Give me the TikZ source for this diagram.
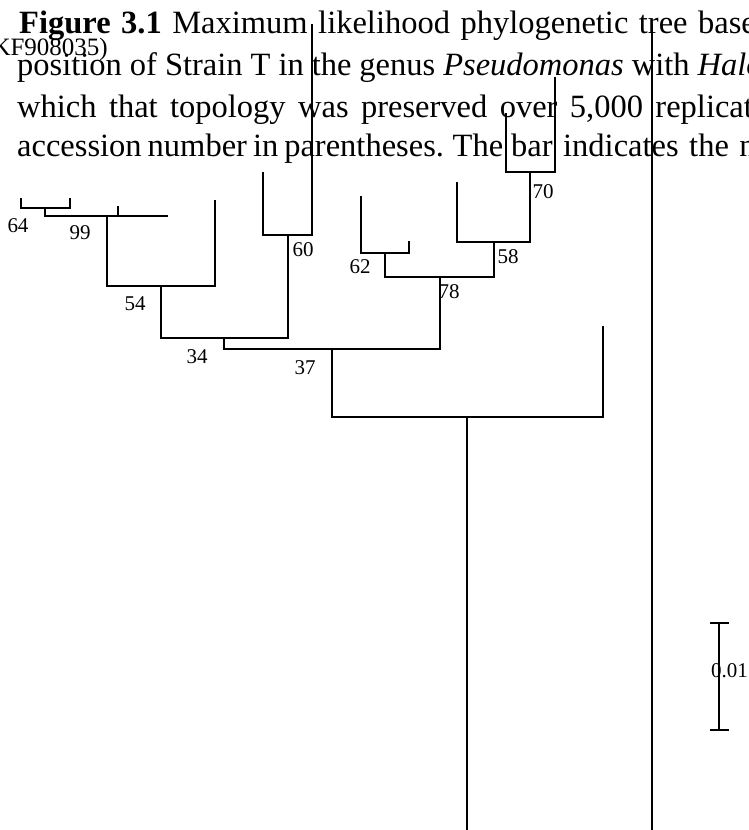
\documentclass[tikz,border=0pt]{standalone}
\usepackage{fontspec}
\setmainfont{Liberation Serif}
\begin{document}
\begin{tikzpicture}[x=1pt,y=-1pt,
  br/.style={line width=1.8pt, line cap=rect},
  thin/.style={line width=1.3pt},
  bs/.style={font=\fontsize{21}{21}\selectfont, inner sep=0pt},
  txt/.style={font=\fontsize{32.5}{32.5}\selectfont, inner sep=0pt, anchor=base west}]
\useasboundingbox (0,0) rectangle (748,830);
\fill[white] (0,0) rectangle (748,830);
% caption lines
\node[txt] (l1) at (19,33) {\spaceskip=10.5pt\textbf{Figure 3.1} Maximum likelihood phylogenetic tree base};
\node[txt] (l2) at (17,75) {\spaceskip=8pt position of Strain T in the genus \textit{Pseudomonas} with \textit{Halo}};
\node[txt] (l3) at (17,117) {\spaceskip=12.4pt which that topology was preserved over 5,000 replicat};
\node[txt] (l4a) at (17,156) {\spaceskip=6pt accession number in parentheses. The};
\node[txt] (l4b) at (511,156) {\spaceskip=10.5pt bar indicates the nu};
\node[font=\fontsize{25}{25}\selectfont, inner sep=0pt, anchor=base east] (acc) at (108,55) {(KF908035)};
% coordinates
\coordinate (t1) at (312,25);
\coordinate (c60r) at (312,235);
\coordinate (t2) at (263,173);
\coordinate (c60) at (288,235);
\coordinate (c34r) at (288,338);
\coordinate (c54) at (161,286);
\coordinate (t215) at (215,201);
\coordinate (c54l) at (107,286);
\coordinate (c99) at (107,216);
\coordinate (c64) at (45,216);
\coordinate (t167) at (167,216);
\coordinate (k1) at (118,216);
\coordinate (k2) at (118,207);
\coordinate (c64t) at (45,208);
\coordinate (t21) at (21,199);
\coordinate (c64r) at (70,208);
\coordinate (t70) at (70,199);
\coordinate (c34) at (224,338);
\coordinate (c78b) at (440,349);
\coordinate (c78) at (440,277);
\coordinate (c62) at (385,253);
\coordinate (c58r) at (494,277);
\coordinate (c58) at (494,242);
\coordinate (t361) at (361,197);
\coordinate (c62r) at (409,253);
\coordinate (t409) at (409,242);
\coordinate (t457) at (457,183);
\coordinate (c70b) at (530,242);
\coordinate (c70) at (530,172);
\coordinate (b1) at (506,113);
\coordinate (b2) at (555,172);
\coordinate (b3) at (555,77);
\coordinate (c37) at (332,349);
\coordinate (c37r) at (603,417);
\coordinate (t603) at (603,327);
\coordinate (r1) at (467,417);
\coordinate (r2) at (467,830);
\coordinate (v1) at (652,25);
\coordinate (v2) at (652,830);
\coordinate (s1) at (719,623);
\coordinate (s2) at (719,730);
% tree
\draw[br] (t2) |- (c60r) -- (t1);
\draw[br] (c60) -- (c34r);
\draw[br] (c54) |- (c34r);
\draw[br] (t215) |- (c54l) -- (c99);
\draw[br] (c64) -- (t167);
\draw[br] (k1) -- (k2);
\draw[br] (c64) -- (c64t);
\draw[br] (t21) |- (c64r) -- (t70);
\draw[br] (c34) |- (c78b) -- (c78);
\draw[br] (c62) |- (c58r) -- (c58);
\draw[br] (t361) |- (c62r) -- (t409);
\draw[br] (t457) |- (c70b) -- (c70);
\draw[thin] (b1) |- (b2) -- (b3);
\draw[br] (c37) |- (c37r) -- (t603);
\draw[br] (r1) -- (r2);
\draw[br] (v1) -- (v2);
% scale bar
\draw[br] (s1) -- (s2);
\draw[br] ([xshift=-8pt]s1) -- ([xshift=9pt]s1);
\draw[br] ([xshift=-8pt]s2) -- ([xshift=9pt]s2);
\node[bs, anchor=west] (sc) at (711,671) {0.01};
% bootstrap labels
\node[bs] (b64) at (18,226) {64};
\node[bs] (b99) at (80,233) {99};
\node[bs] (b54) at (135,304) {54};
\node[bs] (b60) at (303,250) {60};
\node[bs] (b34) at (197,357) {34};
\node[bs] (b37) at (305,368) {37};
\node[bs] (b78) at (449,292) {78};
\node[bs] (b62) at (360,267) {62};
\node[bs] (b58) at (508,257) {58};
\node[bs] (b70) at (543,192) {70};
\end{tikzpicture}
\end{document}
